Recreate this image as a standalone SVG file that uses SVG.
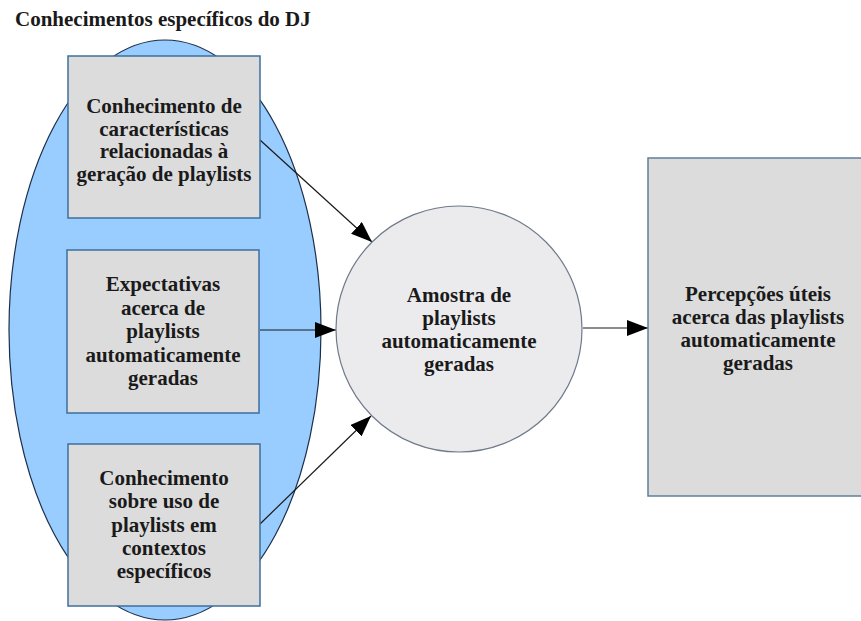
<svg xmlns="http://www.w3.org/2000/svg" width="861" height="621" viewBox="0 0 861 621">
<defs>
<style>
.t{font-family:"Liberation Serif","Times New Roman",serif;font-weight:bold;font-size:21px;fill:#1a1a1a;text-anchor:middle}
.box{fill:#dcdcdc;stroke:#3d6f9f;stroke-width:1.5}
.conn{stroke:#1a1a1a;stroke-width:1.2;fill:none;marker-end:url(#ah)}
</style>
<marker id="ah" markerUnits="userSpaceOnUse" markerWidth="22" markerHeight="16" refX="21" refY="8" orient="auto">
<path d="M0,0 L21,8 L0,16 Z" fill="#000"/>
</marker>
</defs>
<rect width="861" height="621" fill="#fff"/>
<text x="15" y="26" class="t" style="text-anchor:start">Conhecimentos específicos do DJ</text>
<g id="grupo">
<ellipse cx="165" cy="330" rx="156" ry="290" fill="#99ccff" stroke="#1c2f4a" stroke-width="1.2"/>
</g>
<g id="connectors">
<line class="conn" x1="260" y1="140" x2="372" y2="242"/>
<line class="conn" x1="260" y1="330" x2="336" y2="330"/>
<line class="conn" x1="260" y1="524" x2="371" y2="416"/>
<line class="conn" x1="583" y1="328" x2="648" y2="328"/>
</g>
<g id="n1">
<rect class="box" x="68" y="56" width="192" height="162"/>
<text class="t" x="164" y="113">Conhecimento de</text>
<text class="t" x="164" y="135.5">características</text>
<text class="t" x="164" y="158">relacionadas à</text>
<text class="t" x="164" y="180.5">geração de playlists</text>
</g>
<g id="n2">
<rect class="box" x="67" y="250" width="192" height="163"/>
<text class="t" x="163" y="291">Expectativas</text>
<text class="t" x="163" y="314.5">acerca de</text>
<text class="t" x="163" y="338">playlists</text>
<text class="t" x="163" y="361.5">automaticamente</text>
<text class="t" x="163" y="385">geradas</text>
</g>
<g id="n3">
<rect class="box" x="68" y="444" width="192" height="162"/>
<text class="t" x="164" y="485">Conhecimento</text>
<text class="t" x="164" y="508.3">sobre uso de</text>
<text class="t" x="164" y="531.6">playlists em</text>
<text class="t" x="164" y="555">contextos</text>
<text class="t" x="164" y="578">específicos</text>
</g>
<g id="amostra">
<circle cx="459" cy="329" r="123" fill="#ebebee" stroke="#6f7a8a" stroke-width="1.2"/>
<text class="t" x="459" y="302">Amostra de</text>
<text class="t" x="459" y="325">playlists</text>
<text class="t" x="459" y="348">automaticamente</text>
<text class="t" x="459" y="371">geradas</text>
</g>
<g id="percepcoes">
<rect x="648" y="158" width="222" height="338" fill="#dcdcdc" stroke="#5f7f99" stroke-width="1.5"/>
<text class="t" x="758" y="301">Percepções úteis</text>
<text class="t" x="758" y="324">acerca das playlists</text>
<text class="t" x="758" y="347">automaticamente</text>
<text class="t" x="758" y="370">geradas</text>
</g>
</svg>
